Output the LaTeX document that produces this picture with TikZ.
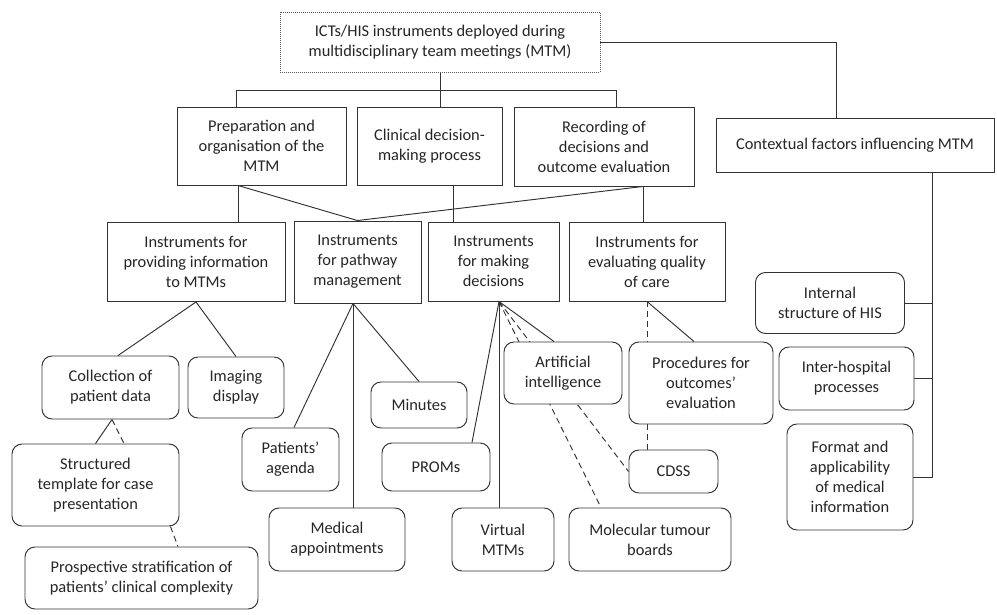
\documentclass[tikz,border=0pt]{standalone}
\usepackage{fontspec}
\setmainfont{Carlito}
\usetikzlibrary{backgrounds}

\begin{document}
\begin{tikzpicture}[x=1pt,y=-1pt,
  every node/.style={font=\fontsize{16.4}{20}\selectfont,text=black!85,align=center,inner sep=0pt},
  topbox/.style={draw=black!65,line width=0.8pt,dash pattern=on 1pt off 1pt,fill=white},
  sqbox/.style={draw=black!80,line width=0.95pt,fill=white},
  leafbox/.style={draw=black!80,line width=0.95pt,fill=white,rounded corners=10pt},
  link/.style={draw=black!80,line width=0.95pt},
  dlink/.style={link,dash pattern=on 6pt off 4pt}]
\useasboundingbox (0,0) rectangle (997,614);
    \node[topbox,minimum width=320,minimum height=60] (top) at (440,42) {ICTs/HIS instruments deployed during\\multidisciplinary team meetings (MTM)};
    \node[sqbox,minimum width=169,minimum height=78] (prep) at (261.5,146) {Preparation and\\organisation of the\\MTM};
    \node[sqbox,minimum width=145,minimum height=78] (clin) at (429.5,146) {Clinical decision-\\making process};
    \node[sqbox,minimum width=180,minimum height=79] (rec) at (604,146.5) {Recording of\\decisions and\\outcome evaluation};
    \node[sqbox,minimum width=278,minimum height=54] (ctx) at (855,145) {Contextual factors influencing MTM};
    \node[sqbox,minimum width=178,minimum height=79] (prov) at (196,262) {Instruments for\\providing information\\to MTMs};
    \node[sqbox,minimum width=127,minimum height=82] (path) at (357.5,262) {Instruments\\for pathway\\management};
    \node[sqbox,minimum width=131,minimum height=79] (make) at (493.5,261.5) {Instruments\\for making\\decisions};
    \node[sqbox,minimum width=156,minimum height=79] (eval) at (647,261.5) {Instruments for\\evaluating quality\\of care};
    \node[leafbox,minimum width=137,minimum height=63] (coll) at (110.5,387.5) {Collection of\\patient data};
    \node[leafbox,minimum width=96,minimum height=61] (img) at (236,387.5) {Imaging\\display};
    \node[leafbox,minimum width=167,minimum height=82] (struct) at (95.5,485) {Structured\\template for case\\presentation};
    \node[leafbox,minimum width=233,minimum height=62] (prosp) at (141.5,578) {Prospective stratification of\\patients’ clinical complexity};
    \node[leafbox,minimum width=97,minimum height=63] (agenda) at (290.5,459.5) {Patients’\\agenda};
    \node[leafbox,minimum width=136,minimum height=63] (med) at (337,539.5) {Medical\\appointments};
    \node[leafbox,minimum width=96,minimum height=46] (minutes) at (419,405) {Minutes};
    \node[leafbox,minimum width=108,minimum height=48] (proms) at (436,467) {PROMs};
    \node[leafbox,minimum width=102,minimum height=63] (virt) at (503,539.5) {Virtual\\MTMs};
    \node[leafbox,minimum width=118,minimum height=62] (ai) at (563,373) {Artificial\\intelligence};
    \node[leafbox,minimum width=162,minimum height=63] (mol) at (650,539.5) {Molecular tumour\\boards};
    \node[leafbox,minimum width=144,minimum height=82] (proc) at (701,383) {Procedures for\\outcomes’\\evaluation};
    \node[leafbox,minimum width=89,minimum height=43] (cdss) at (673.5,471.5) {CDSS};
    \node[leafbox,minimum width=149,minimum height=61] (internal) at (830,303) {Internal\\structure of HIS};
    \node[leafbox,minimum width=135,minimum height=63] (inter) at (846.5,378.5) {Inter-hospital\\processes};
    \node[leafbox,minimum width=126,minimum height=106] (format) at (850,477) {Format and\\applicability\\of medical\\information};
    \coordinate (busL) at (236,90);
    \coordinate (busR) at (616,90);
    \coordinate (prepF) at ([xshift=-23.5pt]prep.south);
    \coordinate (clinF) at ([xshift=23.5pt]clin.south);
    \coordinate (recF) at ([xshift=39pt]rec.south);
    \coordinate (pathF) at ([xshift=-4.5pt]path.south);
    \coordinate (makeF) at ([xshift=5.5pt]make.south);
    \coordinate (ctxF) at ([xshift=77pt]ctx.south);
\begin{scope}[on background layer]
    \draw[link] (top.south) -- (top.south |- clin.north);
    \draw[link] (busL |- prep.north) -- (busL) -- (busR) -- (busR |- rec.north);
    \draw[link] (top.east) -| ([xshift=-19pt]ctx.north);
    \draw[link] (prepF) -- (prepF |- prov.north);
    \draw[link] (prepF) -- (path.north) -- (recF);
    \draw[link] (clinF) -- (clinF |- make.north);
    \draw[link] (recF) -- (recF |- eval.north);
    \draw[link] (ctxF) -- (ctxF |- format.east) -- (format.east);
    \draw[link] (internal.east) -- (internal.east -| ctxF);
    \draw[link] (inter.east) -- (inter.east -| ctxF);
    \draw[link] ([xshift=7.5pt]coll.north) -- (prov.south) -- (img.north);
    \draw[link] ([xshift=1.5pt]coll.south) -- (struct.north);
    \draw[dlink] ([xshift=1.5pt]coll.south) -- ([xshift=28.5pt]struct.north);
    \draw[dlink] ([xshift=-9pt]struct.south east) -- ([xshift=36.5pt]prosp.north);
    \draw[link] ([xshift=3.5pt]agenda.north) -- (pathF) -- (minutes.north);
    \draw[link] (pathF) -- (pathF |- med.north);
    \draw[link] ([xshift=36pt]proms.north) -- (makeF) -- ([xshift=-9pt]ai.north);
    \draw[link] (makeF) -- (makeF |- virt.north);
    \draw[dlink] (makeF) -- ([xshift=-49pt]mol.north);
    \draw[dlink] (makeF) -- (cdss.west);
    \draw[dlink] (eval.south) -- (eval.south |- proc.north);
    \draw[link] (eval.south) -- ([xshift=-7pt]proc.north);
    \draw[dlink] (eval.south |- proc.south) -- (eval.south |- cdss.north);
\end{scope}
\end{tikzpicture}
\end{document}
